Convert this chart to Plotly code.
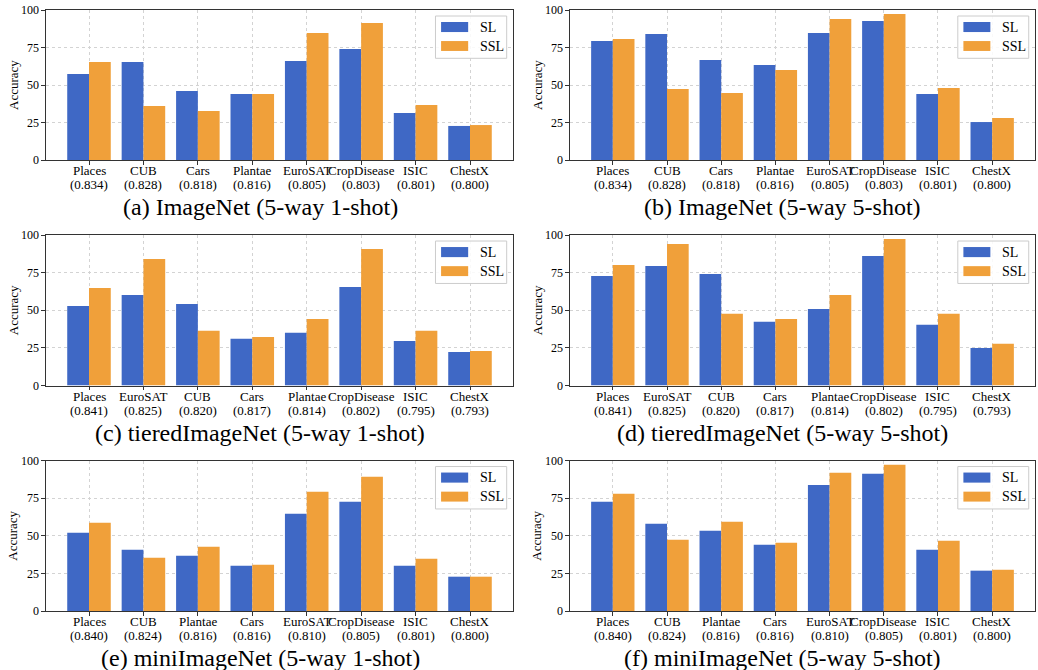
import plotly.graph_objects as go

# ---------------- data ----------------
cats_a = ["Places", "CUB", "Cars", "Plantae", "EuroSAT", "CropDisease", "ISIC", "ChestX"]
scores_a = ["0.834", "0.828", "0.818", "0.816", "0.805", "0.803", "0.801", "0.800"]
sl_a = [57.3, 65.3, 46.0, 44.0, 66.0, 74.0, 31.3, 22.7]
ssl_a = [65.3, 36.0, 32.7, 44.0, 84.7, 91.3, 36.7, 23.3]

cats_b = cats_a
scores_b = scores_a
sl_b = [79.3, 84.0, 66.7, 63.3, 84.7, 92.7, 44.0, 25.3]
ssl_b = [80.7, 47.3, 44.7, 60.0, 94.0, 97.3, 48.0, 28.0]

cats_c = ["Places", "EuroSAT", "CUB", "Cars", "Plantae", "CropDisease", "ISIC", "ChestX"]
scores_c = ["0.841", "0.825", "0.820", "0.817", "0.814", "0.802", "0.795", "0.793"]
sl_c = [52.9, 60.2, 54.2, 31.0, 35.0, 65.5, 29.6, 22.3]
ssl_c = [64.8, 84.1, 36.3, 32.3, 44.2, 90.7, 36.3, 23.0]

cats_d = cats_c
scores_d = scores_c
sl_d = [72.8, 79.4, 74.1, 42.3, 50.9, 86.0, 40.3, 25.0]
ssl_d = [80.1, 94.0, 47.6, 44.2, 60.2, 97.3, 47.6, 27.7]

cats_e = ["Places", "CUB", "Plantae", "Cars", "EuroSAT", "CropDisease", "ISIC", "ChestX"]
scores_e = ["0.840", "0.824", "0.816", "0.816", "0.810", "0.805", "0.801", "0.800"]
sl_e = [52.0, 40.7, 36.7, 30.1, 64.6, 72.6, 30.1, 22.8]
ssl_e = [58.6, 35.4, 42.7, 30.8, 79.2, 89.2, 34.7, 22.8]

cats_f = cats_e
scores_f = scores_e
sl_f = [72.6, 58.0, 53.3, 44.0, 83.8, 91.2, 40.7, 26.8]
ssl_f = [77.9, 47.3, 59.3, 45.4, 91.8, 97.1, 46.7, 27.4]

titles = [
    "(a) ImageNet (5-way 1-shot)",
    "(b) ImageNet (5-way 5-shot)",
    "(c) tieredImageNet (5-way 1-shot)",
    "(d) tieredImageNet (5-way 5-shot)",
    "(e) miniImageNet (5-way 1-shot)",
    "(f) miniImageNet (5-way 5-shot)",
]
y_ticks = [0, 25, 50, 75, 100]
series_names = ["SL", "SSL"]

panels = [
    (cats_a, scores_a, sl_a, ssl_a),
    (cats_b, scores_b, sl_b, ssl_b),
    (cats_c, scores_c, sl_c, ssl_c),
    (cats_d, scores_d, sl_d, ssl_d),
    (cats_e, scores_e, sl_e, ssl_e),
    (cats_f, scores_f, sl_f, ssl_f),
]

# ---------------- style ----------------
W, H = 1038, 670
FONT = "Liberation Serif, Times New Roman, serif"
BLUE = "#3F68C5"
ORANGE = "#F0A03A"
AXC = "#333333"
GRIDC = "#d3d3d3"

col_px = [(46, 513), (570, 1035)]
row_px = [(10, 160), (235, 385.5), (460.5, 611)]
title_y_px = [207, 433, 658]
ylabel_x_px = [13, 537]

fig = go.Figure()
annotations = []
shapes = []

for i, (cats, scores, sl, ssl) in enumerate(panels):
    r, c = divmod(i, 2)
    n = i + 1
    xa = "x" if n == 1 else f"x{n}"
    ya = "y" if n == 1 else f"y{n}"
    xs = list(range(len(cats)))
    for name, vals, color in ((series_names[0], sl, BLUE), (series_names[1], ssl, ORANGE)):
        fig.add_trace(go.Bar(
            x=xs, y=vals, name=name, marker=dict(color=color, line=dict(width=0)),
            xaxis=xa, yaxis=ya, showlegend=False,
        ))
    x0, x1 = col_px[c]
    y0, y1 = row_px[r]
    dom_x = [x0 / W, x1 / W]
    dom_y = [1 - y1 / H, 1 - y0 / H]
    fig.update_layout(**{
        ("xaxis" if n == 1 else f"xaxis{n}"): dict(
            domain=dom_x, anchor=ya, range=[-0.79, len(cats) - 1 + 0.79],
            tickvals=xs, showticklabels=False, automargin=False,
            showline=True, linecolor=AXC, linewidth=1.2, mirror=True,
            showgrid=True, gridcolor=GRIDC, griddash="dot", gridwidth=1,
            ticks="outside", ticklen=3.5, tickcolor=AXC,
            zeroline=False, fixedrange=True,
        ),
        ("yaxis" if n == 1 else f"yaxis{n}"): dict(
            domain=dom_y, anchor=xa, range=[0, 100], automargin=False,
            tickvals=y_ticks, ticktext=[str(t) for t in y_ticks],
            showline=True, linecolor=AXC, linewidth=1.2, mirror=True,
            showgrid=True, gridcolor=GRIDC, griddash="dot", gridwidth=1,
            ticks="outside", ticklen=3.5, tickcolor=AXC,
            tickfont=dict(family=FONT, size=12, color="black"),
            zeroline=False, fixedrange=True,
        ),
    })
    yd = f"{ya} domain"
    # category labels (two lines)
    for xv, cat, sc in zip(xs, cats, scores):
        annotations.append(dict(
            text=cat, xref=xa, yref=yd, x=xv, y=0, yshift=-10.7,
            xanchor="center", yanchor="middle", showarrow=False,
            font=dict(family=FONT, size=13, color="black"),
        ))
        annotations.append(dict(
            text=f"({sc})", xref=xa, yref=yd, x=xv, y=0, yshift=-24.5,
            xanchor="center", yanchor="middle", showarrow=False,
            font=dict(family=FONT, size=13, color="black"),
        ))
    # subplot caption
    annotations.append(dict(
        text=titles[i], xref="paper", yref="paper",
        x=(260 if c == 0 else 782) / W, y=1 - title_y_px[r] / H,
        xanchor="center", yanchor="middle", showarrow=False,
        font=dict(family=FONT, size=24, color="black"),
    ))
    # y label
    annotations.append(dict(
        text="Accuracy", xref="paper", yref="paper",
        x=ylabel_x_px[c] / W, y=1 - (y0 + y1) / 2 / H,
        xanchor="center", yanchor="middle", showarrow=False, textangle=-90,
        font=dict(family=FONT, size=13, color="black"),
    ))
    # legend box
    xd = f"{xa} domain"
    shapes.append(dict(type="rect", xref=xd, yref=yd, x0=0.834, x1=0.9865, y0=0.678, y1=0.96,
                       line=dict(color="#cccccc", width=1), fillcolor="rgba(255,255,255,0.85)", layer="above"))
    for name, color, py0, py1 in ((series_names[0], BLUE, 0.853, 0.92), (series_names[1], ORANGE, 0.727, 0.793)):
        shapes.append(dict(type="rect", xref=xd, yref=yd, x0=0.846, x1=0.904, y0=py0, y1=py1,
                           line=dict(width=0), fillcolor=color, layer="above"))
        annotations.append(dict(
            text=name, xref=xd, yref=yd, x=0.925, y=(py0 + py1) / 2,
            xanchor="left", yanchor="middle", showarrow=False,
            font=dict(family=FONT, size=14, color="black"),
        ))

fig.update_layout(
    width=W, height=H, margin=dict(l=0, r=0, t=0, b=0, autoexpand=False),
    paper_bgcolor="white", plot_bgcolor="white",
    barmode="group", bargap=0.2, bargroupgap=0,
    annotations=annotations, shapes=shapes, showlegend=False,
    font=dict(family=FONT, color="black"),
)

fig.write_html(
    "out.html",
    config={"displayModeBar": False},
    post_script="document.body.style.margin='0';document.body.style.overflow='hidden';",
)
